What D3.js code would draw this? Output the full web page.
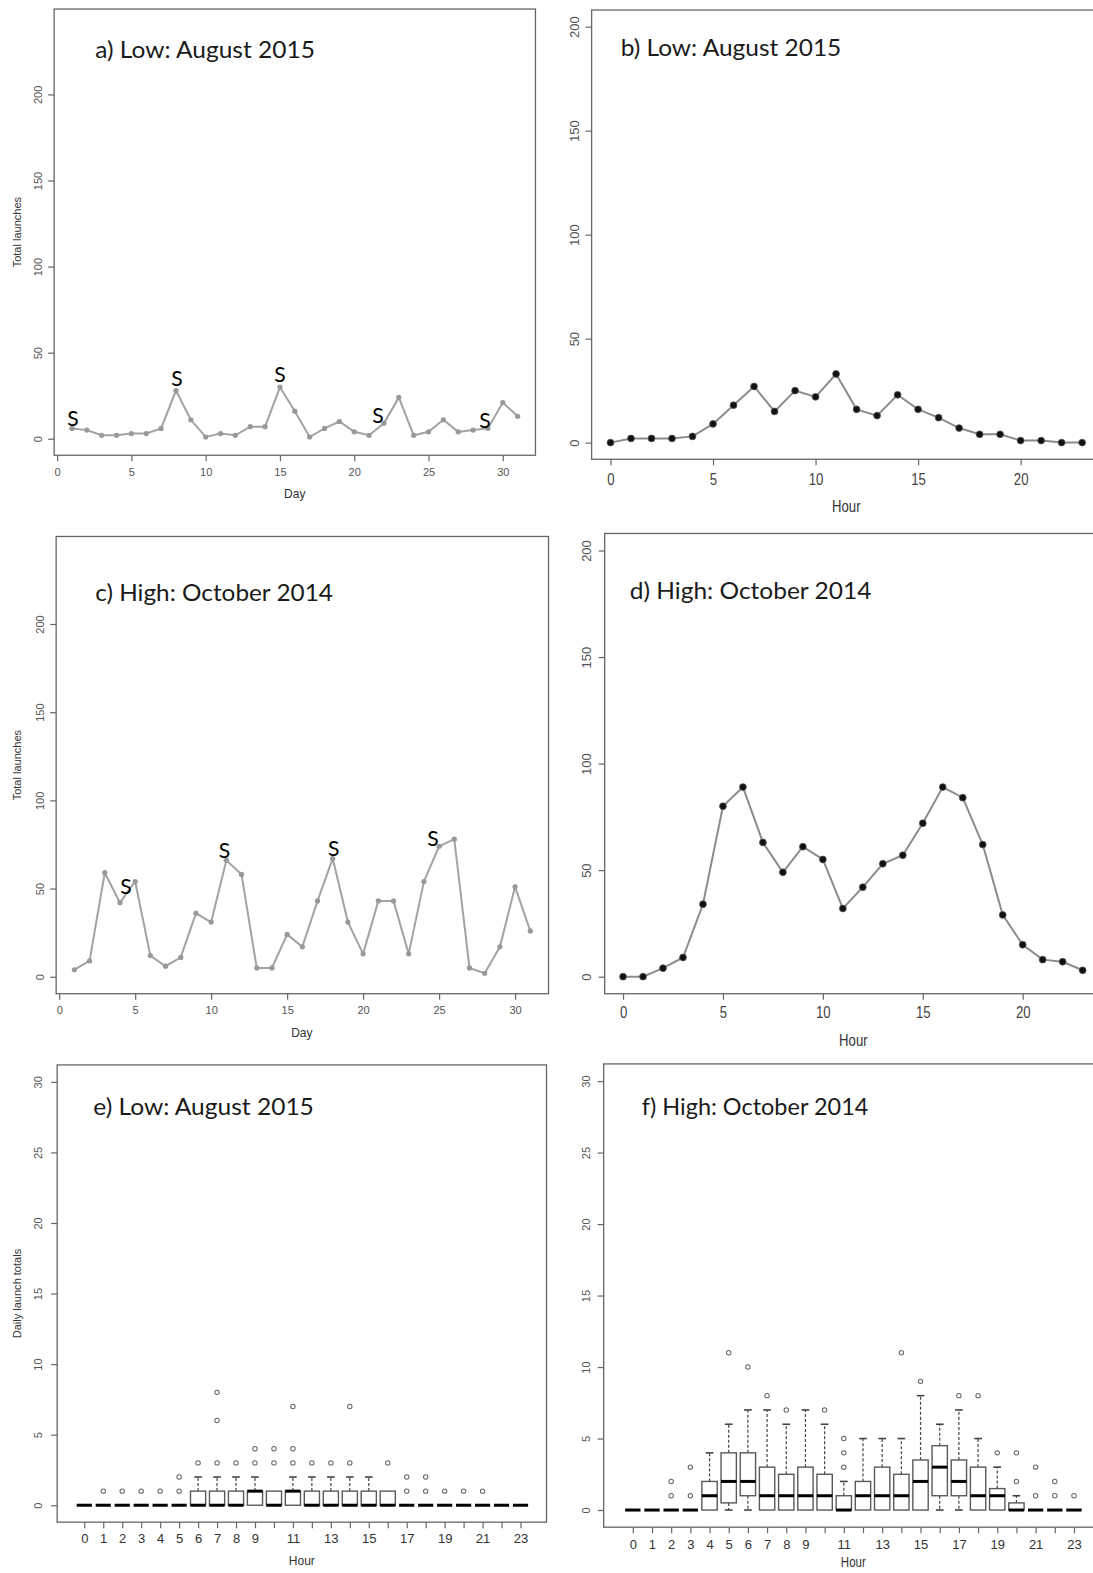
<!DOCTYPE html>
<html>
<head>
<meta charset="utf-8">
<script src="https://cdn.jsdelivr.net/npm/d3@7"></script>
<style>
  body { margin: 0; background: #fff; }
  svg { display: block; }
</style>
</head>
<body>
<div id="chart"></div>
<script>
// ---- data ----
const days = d3.range(1, 32);
const hours = d3.range(0, 24);

// a) daily launches, August 2015
const augDaily = [6, 5, 2, 2, 3, 3, 6, 28, 11, 1, 3, 2, 7, 7, 30, 16, 1, 6, 10, 4, 2, 9, 24, 2, 4, 11, 4, 5, 6, 21, 13];
const augSaturdays = [1, 8, 15, 22, 29];

// c) daily launches, October 2014
const octDaily = [4, 9, 59, 42, 54, 12, 6, 11, 36, 31, 66, 58, 5, 5, 24, 17, 43, 67, 31, 13, 43, 43, 13, 54, 74, 78, 5, 2, 17, 51, 26];
const octSaturdays = [4, 11, 18, 25];

// b) / d) hourly totals
const augHourly = [0, 2, 2, 2, 3, 9, 18, 27, 15, 25, 22, 33, 16, 13, 23, 16, 12, 7, 4, 4, 1, 1, 0, 0];
const octHourly = [0, 0, 4, 9, 34, 80, 89, 63, 49, 61, 55, 32, 42, 53, 57, 72, 89, 84, 62, 29, 15, 8, 7, 3];

// e) daily launch totals by hour, August 2015 (box stats)
const augQ1  = [0, 0, 0, 0, 0, 0, 0, 0, 0, 0, 0, 0, 0, 0, 0, 0, 0, 0, 0, 0, 0, 0, 0, 0];
const augMed = [0, 0, 0, 0, 0, 0, 0, 0, 0, 1, 0, 1, 0, 0, 0, 0, 0, 0, 0, 0, 0, 0, 0, 0];
const augQ3  = [0, 0, 0, 0, 0, 0, 1, 1, 1, 1, 1, 1, 1, 1, 1, 1, 1, 0, 0, 0, 0, 0, 0, 0];
const augLo  = [0, 0, 0, 0, 0, 0, 0, 0, 0, 0, 0, 0, 0, 0, 0, 0, 0, 0, 0, 0, 0, 0, 0, 0];
const augHi  = [0, 0, 0, 0, 0, 0, 2, 2, 2, 2, 1, 2, 2, 2, 2, 2, 1, 0, 0, 0, 0, 0, 0, 0];
const augOut = [[], [1], [1], [1], [1], [1, 2], [3], [3, 6, 8], [3], [3, 4], [3, 4], [3, 4, 7],
                [3], [3], [3, 7], [], [3], [1, 2], [1, 2], [1], [1], [1], [], []];

// f) daily launch totals by hour, October 2014 (box stats)
const octQ1  = [0, 0, 0, 0, 0, 0.5, 1, 0, 0, 0, 0, 0, 0, 0, 0, 0, 1, 1, 0, 0, 0, 0, 0, 0];
const octMed = [0, 0, 0, 0, 1, 2, 2, 1, 1, 1, 1, 0, 1, 1, 1, 2, 3, 2, 1, 1, 0, 0, 0, 0];
const octQ3  = [0, 0, 0, 0, 2, 4, 4, 3, 2.5, 3, 2.5, 1, 2, 3, 2.5, 3.5, 4.5, 3.5, 3, 1.5, 0.5, 0, 0, 0];
const octLo  = [0, 0, 0, 0, 0, 0, 0, 0, 0, 0, 0, 0, 0, 0, 0, 0, 0, 0, 0, 0, 0, 0, 0, 0];
const octHi  = [0, 0, 0, 0, 4, 6, 7, 7, 6, 7, 6, 2, 5, 5, 5, 8, 6, 7, 5, 3, 1, 0, 0, 0];
const octOut = [[], [], [1, 2], [1, 3], [], [11], [10], [8], [7], [], [7], [3, 4, 5],
                [], [], [11], [9], [], [8], [8], [4], [2, 4], [1, 3], [1, 2], [1]];

const dayTicks = d3.range(0, 31, 5);
const hourTicks = d3.range(0, 21, 5);
const launchTicks = d3.range(0, 201, 50);
const boxYTicks = d3.range(0, 31, 5);
const boxHourLabels = [0, 1, 2, 3, 4, 5, 6, 7, 8, 9, 11, 13, 15, 17, 19, 21, 23];

// ---- layout / style ----
const W = 1093, H = 1573, k = 1093 / 1090;
const fonts = {
  plain: "'Liberation Sans', Arial, sans-serif",
  title: "Lato, 'Open Sans', sans-serif"
};
const narrowScale = 0.82;   // squeeze to imitate Arial Narrow
const axisColor = "#666";

const panels = {
  a: { left: 54, right: 534, top: 9, bottom: 454, xDom: [-0.2, 32.2], yDom: [-9.6, 249.6],
       xTicks: dayTicks, yTicks: launchTicks, xLab: { off: 17, size: 11, narrow: false, fill: "#555" },
       yLab: { off: 16, size: 11, fill: "#555" }, xTitle: { text: "Day", x: 294, off: 38, size: 12, narrow: false },
       yTitle: { text: "Total launches", x: 17 }, title: { text: "a) Low: August 2015", x: 95, y: 58, len: 219 } },
  b: { left: 590, right: 1098, top: 10, bottom: 458, xDom: [-0.92, 23.92], yDom: [-8, 208],
       xTicks: hourTicks, yTicks: launchTicks, xLab: { off: 20, size: 16, narrow: true, fill: "#444" },
       yLab: { off: 17, size: 13, fill: "#555" }, xTitle: { text: "Hour", x: 844, off: 47, size: 16, narrow: true },
       title: { text: "b) Low: August 2015", x: 619, y: 56, len: 220 } },
  c: { left: 56, right: 547, top: 535, bottom: 991, xDom: [-0.2, 32.2], yDom: [-9.6, 249.6],
       xTicks: dayTicks, yTicks: launchTicks, xLab: { off: 16, size: 11, narrow: false, fill: "#555" },
       yLab: { off: 16, size: 11, fill: "#555" }, xTitle: { text: "Day", x: 301, off: 39, size: 12, narrow: false },
       yTitle: { text: "Total launches", x: 17 }, title: { text: "c) High: October 2014", x: 95, y: 599, len: 237 } },
  d: { left: 603, right: 1098, top: 532, bottom: 991, xDom: [-0.92, 23.92], yDom: [-8, 208],
       xTicks: hourTicks, yTicks: launchTicks, xLab: { off: 19, size: 16, narrow: true, fill: "#444" },
       yLab: { off: 18, size: 13, fill: "#555" }, xTitle: { text: "Hour", x: 851, off: 47, size: 16, narrow: true },
       title: { text: "d) High: October 2014", x: 628, y: 597, len: 241 } },
  e: { left: 57, right: 545, top: 1062, bottom: 1518, xDom: [-1.43, 24.37], yDom: [-1.2, 31.2],
       xTicks: hours, xShown: boxHourLabels, yTicks: boxYTicks, xLab: { off: 16, size: 13, narrow: false, fill: "#333" },
       yLab: { off: 19, size: 11, fill: "#555" }, xTitle: { text: "Hour", x: 301, off: 38, size: 12, narrow: false },
       yTitle: { text: "Daily launch totals", x: 17 }, title: { text: "e) Low: August 2015", x: 93, y: 1112, len: 220 } },
  f: { left: 602, right: 1098, top: 1061, bottom: 1523, xDom: [-1.52, 24.41], yDom: [-1.2, 31.2],
       xTicks: hours, xShown: boxHourLabels, yTicks: boxYTicks, xLab: { off: 17, size: 13, narrow: false, fill: "#333" },
       yLab: { off: 17, size: 11, fill: "#555" }, xTitle: { text: "Hour", x: 851, off: 35, size: 14, narrow: true },
       title: { text: "f) High: October 2014", x: 640, y: 1112, len: 226 } }
};

// nudges for the hand-placed "S" markers (dx, dy from point)
const sNudge = {
  a: { 1: [1, -10], 8: [1, -12], 15: [0, -12], 22: [-6, -8], 29: [-3, -8] },
  c: { 4: [6, -16], 11: [-2, -10], 18: [1, -10], 25: [-6, -8] }
};

const svg = d3.select("#chart").append("svg").attr("width", W).attr("height", H);
svg.append("rect").attr("width", W).attr("height", H).attr("fill", "#fff");
const root = svg.append("g").attr("transform", `scale(${k})`);

function makeScales(p) {
  return {
    x: d3.scaleLinear().domain(p.xDom).range([p.left, p.right]),
    y: d3.scaleLinear().domain(p.yDom).range([p.bottom, p.top])
  };
}

function drawFrame(p, s) {
  const g = root.append("g");
  g.append("rect").attr("x", p.left).attr("y", p.top)
    .attr("width", p.right - p.left).attr("height", p.bottom - p.top)
    .attr("fill", "none").attr("stroke", axisColor).attr("stroke-width", 1.3);

  const shown = p.xShown ? new Set(p.xShown) : null;
  const xa = g.append("g").attr("transform", `translate(0,${p.bottom})`)
    .call(d3.axisBottom(s.x).tickValues(p.xTicks).tickSize(6)
      .tickFormat(d => (!shown || shown.has(d)) ? d : ""));
  xa.select(".domain").remove();
  xa.selectAll("line").attr("stroke", axisColor).attr("stroke-width", 1.2);
  xa.selectAll("text").attr("y", p.xLab.off).attr("dy", "0.35em")
    .attr("transform", p.xLab.narrow ? `scale(${narrowScale},1)` : null)
    .attr("font-family", fonts.plain).attr("font-size", p.xLab.size).attr("fill", p.xLab.fill);

  const ya = g.append("g").attr("transform", `translate(${p.left},0)`)
    .call(d3.axisLeft(s.y).tickValues(p.yTicks).tickSize(6));
  ya.select(".domain").remove();
  ya.selectAll("line").attr("stroke", axisColor).attr("stroke-width", 1.2);
  ya.selectAll("text").attr("transform", "rotate(-90)")
    .attr("x", 0).attr("y", -(p.yLab.off - 0.35 * p.yLab.size)).attr("dy", 0)
    .attr("text-anchor", "middle")
    .attr("font-family", fonts.plain).attr("font-size", p.yLab.size).attr("fill", p.yLab.fill);

  const xt = p.xTitle;
  g.append("text")
    .attr("transform", `translate(${xt.x},${p.bottom + xt.off})` + (xt.narrow ? ` scale(${narrowScale},1)` : ""))
    .attr("dy", "0.35em").attr("text-anchor", "middle")
    .attr("font-family", fonts.plain).attr("font-size", xt.size).attr("fill", "#333")
    .text(xt.text);

  if (p.yTitle) {
    const cy = (p.top + p.bottom) / 2;
    g.append("text").attr("transform", `translate(${p.yTitle.x + 4},${cy}) rotate(-90)`)
      .attr("text-anchor", "middle").attr("font-family", fonts.plain).attr("font-size", 11)
      .attr("fill", "#333").text(p.yTitle.text);
  }

  g.append("text").attr("x", p.title.x).attr("y", p.title.y)
    .attr("font-family", fonts.title).attr("font-size", 23).attr("fill", "#1a1a1a")
    .attr("textLength", p.title.len).attr("lengthAdjust", "spacingAndGlyphs")
    .text(p.title.text);
}

function drawDaily(key, values, saturdays) {
  const p = panels[key], s = makeScales(p);
  drawFrame(p, s);
  const pts = days.map((d, i) => ({ d, v: values[i] }));
  root.append("path").datum(pts)
    .attr("d", d3.line().x(q => s.x(q.d)).y(q => s.y(q.v)))
    .attr("fill", "none").attr("stroke", "#a3a3a3").attr("stroke-width", 2);
  root.append("g").selectAll("circle").data(pts).join("circle")
    .attr("cx", q => s.x(q.d)).attr("cy", q => s.y(q.v)).attr("r", 2.6).attr("fill", "#999");
  root.append("g").selectAll("text").data(saturdays).join("text")
    .attr("x", d => s.x(d) + sNudge[key][d][0])
    .attr("y", d => s.y(values[d - 1]) + sNudge[key][d][1])
    .attr("dy", "0.35em").attr("text-anchor", "middle")
    .attr("font-family", fonts.title).attr("font-size", 21).attr("fill", "#000")
    .text("S");
}

function drawHourly(key, values) {
  const p = panels[key], s = makeScales(p);
  drawFrame(p, s);
  const pts = hours.map((h, i) => ({ h, v: values[i] }));
  root.append("path").datum(pts)
    .attr("d", d3.line().x(q => s.x(q.h)).y(q => s.y(q.v)))
    .attr("fill", "none").attr("stroke", "#8c8c8c").attr("stroke-width", 2);
  root.append("g").selectAll("circle").data(pts).join("circle")
    .attr("cx", q => s.x(q.h)).attr("cy", q => s.y(q.v)).attr("r", 3.4)
    .attr("fill", "#111").attr("stroke", "#555").attr("stroke-width", 0.8);
}

function drawBoxes(key, q1, med, q3, lo, hi, out) {
  const p = panels[key], s = makeScales(p);
  drawFrame(p, s);
  const step = s.x(1) - s.x(0), bw = step * 0.8, cw = bw / 2;
  const stats = hours.map((h, i) => ({ h, q1: q1[i], med: med[i], q3: q3[i], lo: lo[i], hi: hi[i], out: out[i] }));
  const g = root.append("g");
  const grp = g.selectAll("g").data(stats).join("g");
  // whiskers
  grp.filter(d => d.hi > d.q3).append("line")
    .attr("x1", d => s.x(d.h)).attr("x2", d => s.x(d.h))
    .attr("y1", d => s.y(d.q3)).attr("y2", d => s.y(d.hi))
    .attr("stroke", "#444").attr("stroke-width", 1.2).attr("stroke-dasharray", "3,2");
  grp.filter(d => d.hi > d.q3).append("line")
    .attr("x1", d => s.x(d.h) - cw / 2).attr("x2", d => s.x(d.h) + cw / 2)
    .attr("y1", d => s.y(d.hi)).attr("y2", d => s.y(d.hi))
    .attr("stroke", "#444").attr("stroke-width", 1.6);
  grp.filter(d => d.lo < d.q1).append("line")
    .attr("x1", d => s.x(d.h)).attr("x2", d => s.x(d.h))
    .attr("y1", d => s.y(d.q1)).attr("y2", d => s.y(d.lo))
    .attr("stroke", "#444").attr("stroke-width", 1.2).attr("stroke-dasharray", "3,2");
  grp.filter(d => d.lo < d.q1).append("line")
    .attr("x1", d => s.x(d.h) - cw / 2).attr("x2", d => s.x(d.h) + cw / 2)
    .attr("y1", d => s.y(d.lo)).attr("y2", d => s.y(d.lo))
    .attr("stroke", "#444").attr("stroke-width", 1.6);
  // box
  grp.filter(d => d.q3 > d.q1).append("rect")
    .attr("x", d => s.x(d.h) - bw / 2).attr("width", bw)
    .attr("y", d => s.y(d.q3)).attr("height", d => s.y(d.q1) - s.y(d.q3))
    .attr("fill", "#fff").attr("stroke", "#5a5a5a").attr("stroke-width", 1.4);
  // median
  grp.append("line")
    .attr("x1", d => s.x(d.h) - bw / 2).attr("x2", d => s.x(d.h) + bw / 2)
    .attr("y1", d => s.y(d.med)).attr("y2", d => s.y(d.med))
    .attr("stroke", "#000").attr("stroke-width", 3);
  // outliers
  grp.selectAll("circle").data(d => d.out.map(v => ({ h: d.h, v }))).join("circle")
    .attr("cx", d => s.x(d.h)).attr("cy", d => s.y(d.v)).attr("r", 2.2)
    .attr("fill", "none").attr("stroke", "#666").attr("stroke-width", 1);
}

drawDaily("a", augDaily, augSaturdays);
drawHourly("b", augHourly);
drawDaily("c", octDaily, octSaturdays);
drawHourly("d", octHourly);
drawBoxes("e", augQ1, augMed, augQ3, augLo, augHi, augOut);
drawBoxes("f", octQ1, octMed, octQ3, octLo, octHi, octOut);
</script>
</body>
</html>
